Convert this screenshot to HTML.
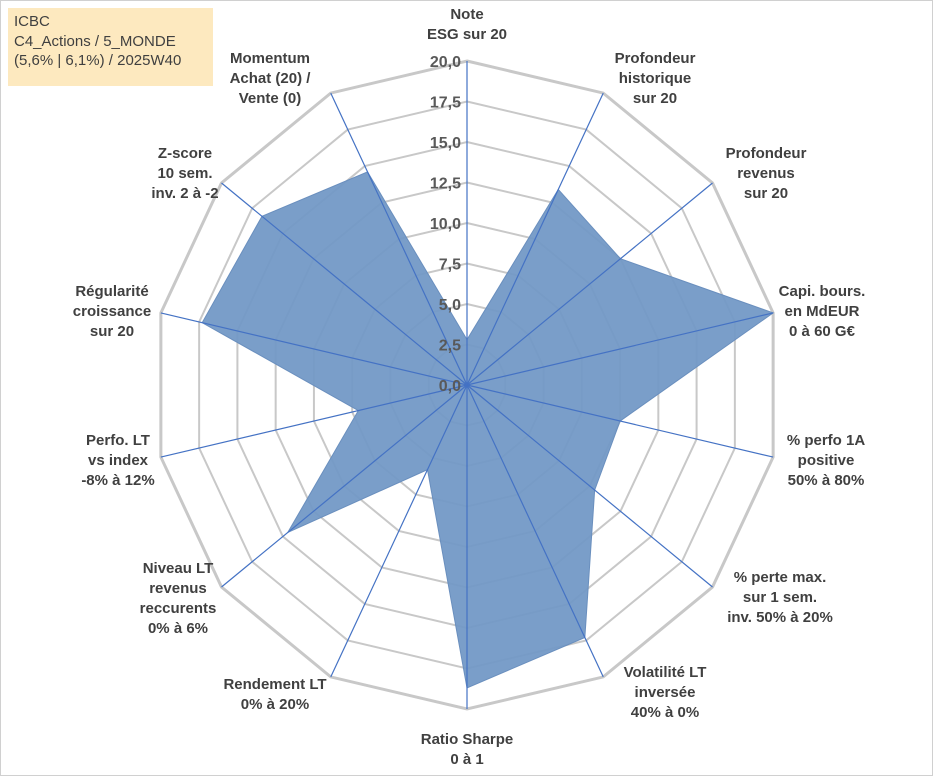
<!DOCTYPE html>
<html><head><meta charset="utf-8">
<style>
body{margin:0;background:#fff;}
#wrap{position:relative;width:933px;height:776px;overflow:hidden;font-family:"Liberation Sans",sans-serif;}
#frame{position:absolute;left:0;top:0;width:931px;height:774px;border:1px solid #d0d0d0;}
#title{position:absolute;left:8px;top:8px;width:205px;height:78px;background:#fde9bf;color:#404040;font-size:15px;line-height:19.5px;padding:4px 0 0 6px;box-sizing:border-box;}
</style></head><body>
<div id="wrap">
<div id="frame"></div>
<svg id="svg" width="933" height="776" style="position:absolute;left:0;top:0"></svg>
<div id="title">ICBC<br>C4_Actions / 5_MONDE<br>(5,6% | 6,1%) / 2025W40</div>
</div>
<script>
const categories=[["Note","ESG sur 20"],["Profondeur","historique","sur 20"],["Profondeur","revenus","sur 20"],["Capi. bours.","en MdEUR","0 à 60 G€"],["% perfo 1A","positive","50% à 80%"],["% perte max.","sur 1 sem.","inv. 50% à 20%"],["Volatilité LT","inversée","40% à 0%"],["Ratio Sharpe","0 à 1"],["Rendement LT","0% à 20%"],["Niveau LT","revenus","reccurents","0% à 6%"],["Perfo. LT","vs index","-8% à 12%"],["Régularité","croissance","sur 20"],["Z-score","10 sem.","inv. 2 à -2"],["Momentum","Achat (20) /","Vente (0)"]];
const values=[2.8,13.4,12.5,20,10,10.4,17.3,18.7,5.8,14.6,7.1,17.3,16.7,14.6];
const tickLabels=["0,0","2,5","5,0","7,5","10,0","12,5","15,0","17,5","20,0"];
const maxV=20;
// label layout (center x, first baseline y) - styling, not data
const labelPos=[[467,19],[655,63],[766,158],[822,296],[826,445],[780,582],[665,677],[467,744],[275,689],[178,573],[118,445],[112,296],[185,158],[270,63]];
const cx=467,cy=385,RX=314,RY=324,N=categories.length;
const svg=document.getElementById('svg');const NS="http://www.w3.org/2000/svg";
function ang(i){return -Math.PI/2+i*2*Math.PI/N;}
function pt(i,v){const f=v/maxV;return [cx+f*RX*Math.cos(ang(i)),cy+f*RY*Math.sin(ang(i))];}
function mk(t,a){const e=document.createElementNS(NS,t);for(const k in a)e.setAttribute(k,a[k]);svg.appendChild(e);return e;}
for(let k=1;k<tickLabels.length;k++){
 const v=k*maxV/(tickLabels.length-1);
 const p=categories.map((c,i)=>pt(i,v).join(',')).join(' ');
 const e=mk('polygon',{points:p,fill:'none',stroke:'#c8c8c8','stroke-width':k==tickLabels.length-1?3:2});
 
 
}
const sp=values.map((v,i)=>pt(i,v).join(',')).join(' ');
const area=mk('polygon',{points:sp,fill:'#7399c6','fill-opacity':'0.95',stroke:'#6a8fbe','stroke-width':1});


categories.forEach((c,i)=>{const [x,y]=pt(i,maxV);
 const l=mk('line',{x1:cx,y1:cy,x2:x,y2:y,stroke:'#4472c4','stroke-width':1.2});
 
 
});
tickLabels.forEach((t,k)=>{const y=cy-k/(tickLabels.length-1)*RY;
 const e=mk('text',{x:cx-6,y:y+6,'text-anchor':'end','font-size':16,'font-weight':'bold',fill:'#595959'});
 e.textContent=t;
 
 
});
categories.forEach((lines,i)=>{const [tx,ty]=labelPos[i];
 const t=mk('text',{'text-anchor':'middle','font-size':15,'font-weight':'bold',fill:'#404040'});
 
 
 lines.forEach((s,j)=>{const ts=document.createElementNS(NS,'tspan');ts.setAttribute('x',tx);ts.setAttribute('y',ty+j*20);ts.textContent=s;t.appendChild(ts);});
});
</script>
</body></html>
